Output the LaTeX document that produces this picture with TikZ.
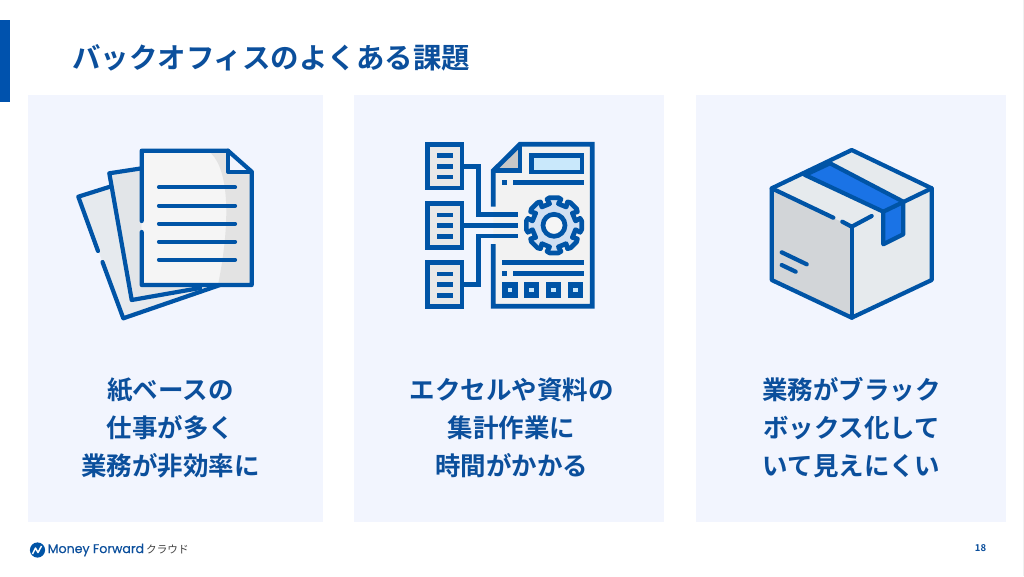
\documentclass[tikz,border=0pt]{standalone}
\usepackage{fontspec}
\setmainfont{Noto Sans CJK JP}[BoldFont={Noto Sans CJK JP Bold}]
\newfontfamily\logofont{Poppins}[FakeBold=0.35]
\definecolor{ink}{HTML}{0054A6}
\definecolor{txt}{HTML}{0B4F9C}
\definecolor{panel}{HTML}{F2F5FE}
\definecolor{bar}{HTML}{0052AD}
\definecolor{tape}{HTML}{1A73E6}
\definecolor{gearfill}{HTML}{D0DFF2}
\definecolor{sky}{HTML}{C9E8FB}
\definecolor{sheetb}{HTML}{E2E5E8}
\definecolor{sheetc}{HTML}{E6EAEE}
\definecolor{boxl}{HTML}{D2D5D8}
\definecolor{boxr}{HTML}{E6EAED}
\begin{document}
\begin{tikzpicture}[x=1pt,y=-1pt,
  ic/.style={draw=ink,line width=4.2pt,line join=round,line cap=round},
  ics/.style={draw=ink,line width=4.7pt,line join=miter,line cap=butt},
  panelbox/.style={fill=panel,draw=none},
  label/.style={font=\fontsize{25.5pt}{38pt}\selectfont\bfseries,text=txt,align=center,inner sep=0pt}]
\useasboundingbox (0,0) rectangle (1024,576);
\fill[white] (0,0) rectangle (1024,576);
\fill[black!6] (1023,0) rectangle (1024,576);
\fill[bar] (0,20) rectangle (10,102);
\node[anchor=west,inner sep=0pt,text=txt,font=\fontsize{28.45pt}{30pt}\selectfont\bfseries] (title) at (72,58) {バックオフィスのよくある課題};
\fill[panelbox] (28,95) rectangle (323,522);
\fill[panelbox] (354,95) rectangle (664,522);
\fill[panelbox] (696,95) rectangle (1006,522);

% papers icon
\fill[sheetc] (78.3,196.7) -- (110,186.7) -- (142,230) -- (220,285) -- (123.3,318.3) -- cycle;
\fill[sheetb] (109.3,173.3) -- (141.7,168.3) -- (141.7,285) -- (220,285) -- (131.7,300) -- cycle;
\draw[ic] (110,186.7) -- (78.3,196.7) -- (98,251);
\draw[ic] (102.5,262) -- (123.3,318.3) -- (220,285);
\draw[ic] (141.7,168.3) -- (109.3,173.3) -- (131.7,300) -- (200,288);
\fill[black!4] (141.7,150.7) -- (228,150.7) -- (251.7,171.7) -- (251.7,285) -- (141.7,285) -- cycle;
\fill[black!11] (208,150.7) .. controls (228,165) and (232,215) .. (218,285) -- (251.7,285) -- (251.7,171.7) -- (228,150.7) -- cycle;
\fill[panel] (228,150.7) -- (251.7,171.7) -- (228,171.7) -- cycle;
\draw[ic] (141.7,221) -- (141.7,150.7) -- (228,150.7) -- (251.7,171.7) -- (251.7,285) -- (141.7,285) -- (141.7,232);
\draw[ic] (228,150.7) -- (228,171.7) -- (251.7,171.7);
\foreach \y in {187.3,205.7,223.7,241.7,259.7} \draw[ic] (159,\y) -- (235,\y);

% process icon
\foreach \y in {144.3,203.7,262.7}{
  \fill[black!9] (427.7,\y) rectangle (462,\y+43.7);
  \draw[ics] (427.7,\y) rectangle (462,\y+43.7);
  \foreach \d in {11.3,22,32.6} \draw[ics] (437.3,\y+\d) -- (453.3,\y+\d);
}
\fill[black!5] (520,144.3) -- (592.3,144.3) -- (592.3,306.3) -- (493.3,306.3) -- (493.3,170.7) -- cycle;
\fill[black!22] (520,144.3) -- (520,170.7) -- (493.3,170.7) -- cycle;
\draw[ics] (493.3,206.7) -- (493.3,170.7) -- (520,144.3) -- (592.3,144.3) -- (592.3,306.3) -- (493.3,306.3) -- (493.3,244);
\draw[ics] (520,144.3) -- (520,170.7) -- (493.3,170.7);
\draw[ics,fill=sky] (531.3,155.3) rectangle (582,172);
\fill[ink] (502.3,180) rectangle (507.3,185);
\draw[ics] (513.3,182.7) -- (584,182.7);
\draw[ics] (464,166.3) -- (478.3,166.3) -- (478.3,214.7) -- (518.3,214.7);
\draw[ics] (462,225.3) -- (518.3,225.3);
\draw[ics] (464,284.3) -- (478.3,284.3) -- (478.3,236) -- (518.3,236);
\begin{scope}[shift={(554,225.3)}]
\draw[ics,line join=round,fill=gearfill] (-11.5:22) foreach \a in {0,45,...,315}{
  -- (\a-15:27) -- (\a-9:28) -- (\a+9:28) -- (\a+15:27) -- (\a+11.5:22)
  -- (\a+33.5:22) } -- cycle;
\draw[draw=ink,line width=4.7pt,fill=black!4] (0,0) circle (11);
\end{scope}
\draw[ics] (502.3,262.7) -- (584,262.7);
\fill[ink] (502.3,271) rectangle (507.3,276);
\draw[ics] (513.3,273.3) -- (584,273.3);
\foreach \x in {502.3,524,546,568}{
  \fill[ink] (\x,282.3) rectangle (\x+15.3,297.7);
  \fill[sky] (\x+5.4,287.6) rectangle (\x+9.9,292.4);
}

% box icon
\fill[boxr] (851.7,150) -- (931.7,188.3) -- (851.7,226.7) -- (771.7,188.3) -- cycle;
\fill[boxl] (771.7,188.3) -- (851.7,226.7) -- (851.7,317.7) -- (771.7,280) -- cycle;
\fill[boxr] (851.7,226.7) -- (931.7,188.3) -- (931.7,280) -- (851.7,317.7) -- cycle;
\fill[tape] (805,175) -- (830,163.3) -- (903.3,201.7) -- (903.3,234.3) -- (883.3,244.3) -- (883.3,211.7) -- cycle;
\draw[ic] (851.7,150) -- (931.7,188.3) -- (931.7,280) -- (851.7,317.7) -- (771.7,280) -- (771.7,188.3) -- cycle;
\draw[ic] (771.7,188.3) -- (833.3,217.7);
\draw[ic] (842.3,221.7) -- (851.7,226.7) -- (871.7,216);
\draw[ic] (851.7,226.7) -- (851.7,317.7);
\draw[ic] (805,175) -- (830,163.3);
\draw[ic] (805,175) -- (883.3,211.7) -- (883.3,244.3) -- (903.3,234.3) -- (903.3,201.7) -- (830,163.3);
\draw[ic] (883.3,211.7) -- (931.7,188.3);
\draw[ic] (781.7,252.3) -- (806.7,264.3);
\draw[ic] (781.7,265) -- (795.7,271.7);

% labels
\node[label] (t1) at (170.5,428) {紙ベースの\\仕事が多く\\業務が非効率に};
\node[label] (t2) at (511.5,428) {エクセルや資料の\\集計作業に\\時間がかかる};
\node[label] (t3) at (851.5,428) {業務がブラック\\ボックス化して\\いて見えにくい};

% footer
\fill[ink] (37.5,550) circle (7.6);
\draw[white,line width=1.5pt,line join=round] (32.5,554) -- (35.5,548) -- (38,552.5) -- (41.5,546);
\node[anchor=west,inner sep=0pt,text=txt,font=\fontsize{12.6pt}{15pt}\logofont\selectfont] (logo) at (47.5,550) {Money Forward};
\node[anchor=west,inner sep=0pt,text=black!75,font=\fontsize{10.6pt}{13pt}\selectfont] (logo2) at (146,549.5) {クラウド};
\node[inner sep=0pt,text=txt,font=\fontsize{9.5pt}{11pt}\selectfont\bfseries] (page) at (980.5,548) {18};
\end{tikzpicture}
\end{document}
